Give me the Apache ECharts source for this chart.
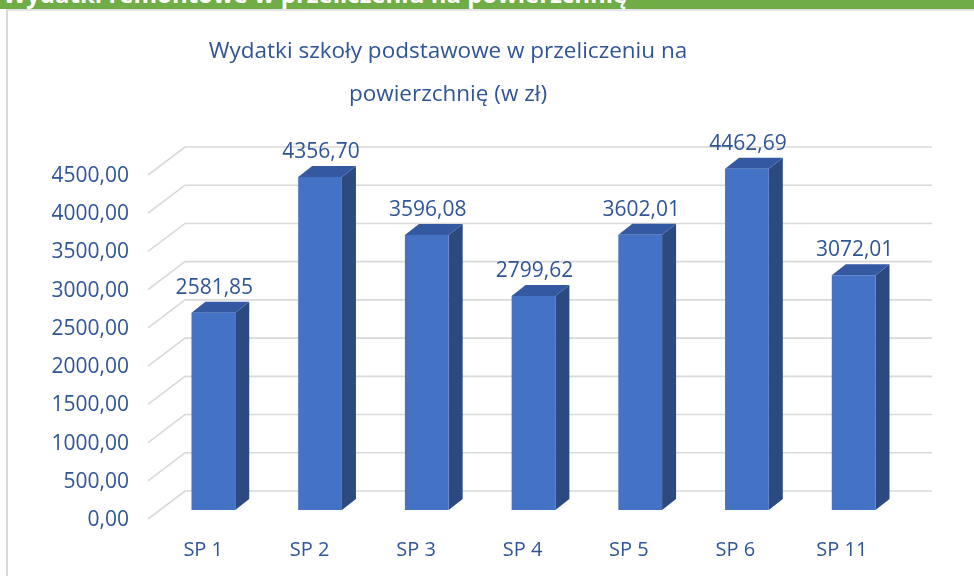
<!DOCTYPE html>
<html>
<head>
<meta charset="utf-8">
<script src="https://cdn.jsdelivr.net/npm/echarts@6/dist/echarts.min.js"></script>
<style>
  body { margin: 0; background: #fff; }
  #banner { position: absolute; left: 0; top: 0; width: 974px; height: 9px; background: #70AD47; overflow: hidden; }
  #banner span { position: absolute; left: 3px; top: -18px; font: bold 24px/24px 'Open Sans'; color: #fff; white-space: nowrap; }
  #frame { position: absolute; left: 6px; top: 9px; width: 968px; height: 567px; border-left: 2px solid #d9d9d9; border-top: 2px solid #e4e4e4; }
  #chart { position: absolute; left: 0; top: 0; width: 974px; height: 576px; }
</style>
</head>
<body>
<div id="banner"><span>Wydatki remontowe w przeliczeniu na powierzchnię</span></div>
<div id="frame"></div>
<div id="chart"></div>
<script>
// dane z wykresu
var categories = ['SP 1', 'SP 2', 'SP 3', 'SP 4', 'SP 5', 'SP 6', 'SP 11'];
var values = [2581.85, 4356.70, 3596.08, 2799.62, 3602.01, 4462.69, 3072.01];
var yTicks = [0, 500, 1000, 1500, 2000, 2500, 3000, 3500, 4000, 4500];
var titleText = 'Wydatki szkoły podstawowe w przeliczeniu na\npowierzchnię (w zł)';

var textBlue = '#2F5597';
var font = 'Open Sans';

function fmt(v) {
    return v.toFixed(2).replace('.', ',');
}

var chart = echarts.init(document.getElementById('chart'));

var option = {
    animation: false,
    title: {
        text: titleText,
        left: 443,
        top: 25,
        textAlign: 'center',
        textStyle: { color: textBlue, fontFamily: font, fontSize: 22.5, fontWeight: 'normal', lineHeight: 43 }
    },
    grid: [
        { left: 185, top: 147, width: 747, height: 344 },   // tylna sciana
        { left: 150, top: 176, width: 745, height: 344 },   // plaszczyzna etykiet
        { left: 160, top: 166, width: 747, height: 344 }    // slupki
    ],
    xAxis: [
        { gridIndex: 0, type: 'value', min: 0, max: 1, show: false },
        {
            gridIndex: 1, type: 'category', data: categories,
            axisLine: { show: false }, axisTick: { show: false },
            axisLabel: { color: textBlue, fontFamily: font, fontSize: 20, margin: 20 }
        },
        { gridIndex: 2, type: 'category', data: categories, show: false }
    ],
    yAxis: [
        { gridIndex: 0, type: 'value', min: 0, max: 4500, interval: 500, show: false },
        {
            gridIndex: 1, type: 'value', min: 0, max: 4500, interval: 500,
            axisLine: { show: false }, axisTick: { show: false }, splitLine: { show: false },
            axisLabel: { color: textBlue, fontFamily: font, fontSize: 21, margin: 21, formatter: fmt }
        },
        { gridIndex: 2, type: 'value', min: 0, max: 4500, show: false }
    ],
    series: [
        {
            type: 'custom',
            xAxisIndex: 0,
            yAxisIndex: 0,
            silent: true,
            data: yTicks.map(function (v) { return [0, v]; }),
            renderItem: function (params, api) {
                var a = api.coord([0, api.value(1)]);
                var b = api.coord([1, api.value(1)]);
                return {
                    type: 'polyline',
                    shape: { points: [[a[0] - 37, a[1] + 28], a, b] },
                    style: { stroke: '#d9d9d9', lineWidth: 1.6, fill: null }
                };
            }
        },
        {
            type: 'custom',
            xAxisIndex: 2,
            yAxisIndex: 2,
            data: values.map(function (v, i) { return [i, v]; }),
            renderItem: function (params, api) {
                var top = api.coord([api.value(0), api.value(1)]);
                var base = api.coord([api.value(0), 0]);
                var w = api.size([1, 0])[0] * 0.41;
                var x0 = top[0] - w / 2, x1 = top[0] + w / 2;
                var dx = 14, dy = 11;
                return {
                    type: 'group',
                    children: [
                        {
                            type: 'polygon',
                            shape: { points: [[x1, top[1]], [x1 + dx, top[1] - dy], [x1 + dx, base[1] - dy], [x1, base[1]]] },
                            style: { fill: '#2C4A80' }
                        },
                        {
                            type: 'polygon',
                            shape: { points: [[x0, top[1]], [x0 + dx, top[1] - dy], [x1 + dx, top[1] - dy], [x1, top[1]]] },
                            style: { fill: '#3459A0' }
                        },
                        {
                            type: 'rect',
                            shape: { x: x0, y: top[1], width: w, height: base[1] - top[1] },
                            style: { fill: '#4472C4' }
                        },
                        {
                            type: 'text',
                            x: top[0] + 1,
                            y: top[1] - dy - 14,
                            style: {
                                text: fmt(api.value(1)),
                                fill: textBlue,
                                fontFamily: font,
                                fontSize: 21,
                                align: 'center',
                                verticalAlign: 'middle'
                            }
                        }
                    ]
                };
            }
        }
    ]
};

chart.setOption(option);
</script>
</body>
</html>
